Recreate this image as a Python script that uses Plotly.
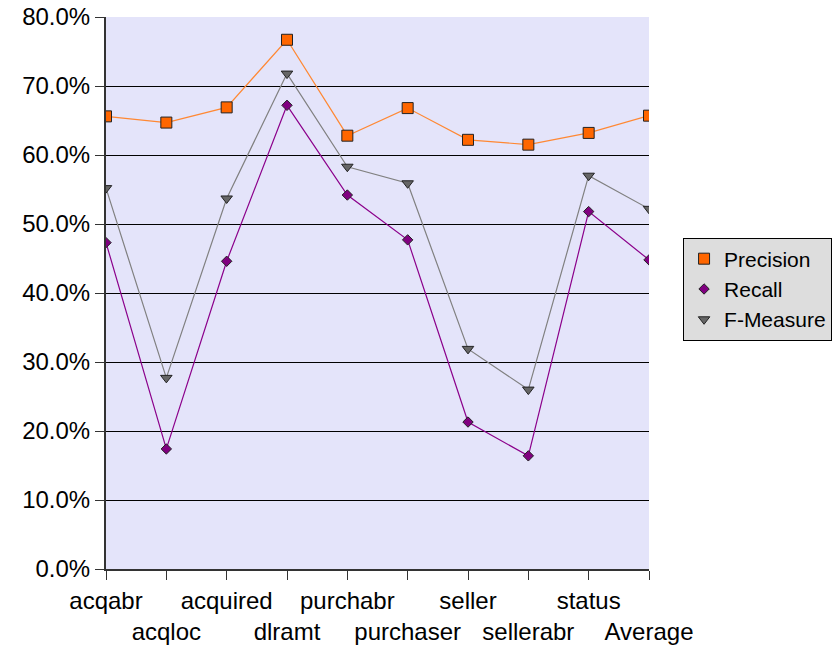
import plotly.graph_objects as go

categories = ["acqabr", "acqloc", "acquired", "dlramt", "purchabr",
              "purchaser", "seller", "sellerabr", "status", "Average"]

precision = [0.656, 0.647, 0.669, 0.767, 0.628, 0.668, 0.622, 0.615, 0.632, 0.657]
recall = [0.473, 0.174, 0.446, 0.672, 0.542, 0.477, 0.213, 0.164, 0.518, 0.448]
f_measure = [0.552, 0.277, 0.537, 0.718, 0.583, 0.559, 0.319, 0.260, 0.570, 0.522]

y_ticks = [0, 0.1, 0.2, 0.3, 0.4, 0.5, 0.6, 0.7, 0.8]

# Alternate the category labels over two rows so they do not collide
tick_text = [c if i % 2 == 0 else "<br>" + c for i, c in enumerate(categories)]
x_pos = list(range(len(categories)))

series = [
    ("Precision", precision, "#FF8833", "#FF6600", "square", 11),
    ("Recall", recall, "#8B008B", "#800080", "diamond", 8),
    ("F-Measure", f_measure, "#808080", "#666666", "triangle-down", 10),
]

fig = go.Figure()
for name, vals, line_color, fill, symbol, size in series:
    fig.add_trace(go.Scatter(
        x=x_pos, y=vals, mode="lines", showlegend=False,
        line=dict(color=line_color, width=1.2), hoverinfo="skip",
    ))
for name, vals, line_color, fill, symbol, size in series:
    fig.add_trace(go.Scatter(
        x=x_pos, y=vals, mode="markers", name=name,
        marker=dict(symbol=symbol, size=size, color=fill,
                    line=dict(color="#222222", width=1)),
    ))

font_family = "Liberation Sans, Arial, sans-serif"

fig.update_layout(
    width=833, height=649,
    margin=dict(l=106, r=184, t=17, b=80),
    paper_bgcolor="white",
    plot_bgcolor="#E4E4FA",
    font=dict(family=font_family, size=24, color="black"),
    showlegend=True,
    legend=dict(
        xref="container", yref="container",
        x=0.820, y=0.634, xanchor="left", yanchor="top",
        bgcolor="#DDDDDD", bordercolor="black", borderwidth=1,
        font=dict(size=21, family=font_family),
        tracegroupgap=0,
    ),
    xaxis=dict(
        range=[0, len(categories) - 1],
        tickmode="array", tickvals=x_pos, ticktext=tick_text,
        tickangle=0, automargin=False,
        ticks="outside", ticklen=9, tickcolor="#333333", tickwidth=1,
        showgrid=False, zeroline=False,
        showline=True, linecolor="#333333", linewidth=2,
        tickfont=dict(size=24),
    ),
    yaxis=dict(
        range=[0, 0.8], automargin=False,
        tickmode="array", tickvals=y_ticks, tickformat=".1%",
        ticks="outside", ticklen=9, tickcolor="#333333", tickwidth=1,
        showgrid=True, gridcolor="black", gridwidth=1,
        zeroline=False,
        showline=True, linecolor="#333333", linewidth=2,
        tickfont=dict(size=24),
    ),
)

fig.write_html("out.html")
